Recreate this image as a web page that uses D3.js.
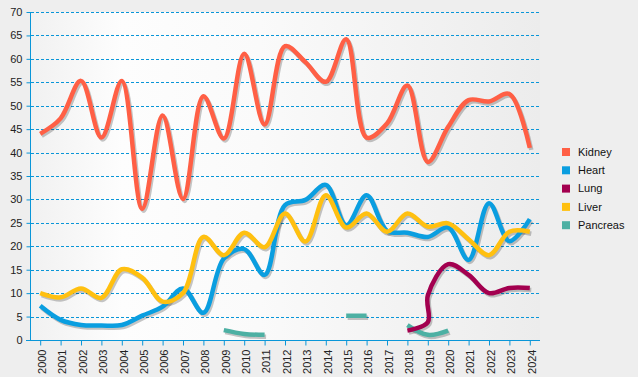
<!DOCTYPE html>
<html>
<head>
<meta charset="utf-8">
<script src="https://cdn.jsdelivr.net/npm/d3@7"></script>
<style>
  body { margin: 0; background: #eeeeee; }
  svg { display: block; font-family: 'Liberation Sans', Arial, sans-serif; }
</style>
</head>
<body>
<script>
// Values, one array per series

const years = ['2000', '2001', '2002', '2003', '2004', '2005', '2006', '2007', '2008', '2009',
  '2010', '2011', '2012', '2013', '2014', '2015', '2016', '2017', '2018', '2019',
  '2020', '2021', '2022', '2023', '2024']

const yTicks = [0, 5, 10, 15, 20, 25, 30, 35, 40, 45, 50, 55, 60, 65, 70]

const kidney = [44, 47.3, 55.3, 43.2, 55.3, 28, 47.9, 30.1, 52, 43, 61.1, 46, 62.7, 59.3, 55.1,
  64.2, 43.2, 46.2, 54.3, 38, 45.5, 51.2, 50.9, 52.5, 41]
const heart = [7.3, 4.3, 3.2, 3.1, 3.2, 5.2, 7.1, 11, 5.8, 17.4, 19.4, 13.9, 28.8, 29.9, 33.1,
  24.5, 30.9, 23.3, 22.9, 22, 24, 17.1, 29.2, 21.1, 25.8]
const liver = [10, 9.1, 11, 9, 15.1, 13.3, 8.2, 10, 22, 18.1, 22.9, 19.8, 27, 21, 30.9,
  24, 27, 23.1, 27, 24.2, 24.9, 21.5, 18.1, 23.1, 23.1]
const pancreas = [null, null, null, null, null, null, null, null, null, 2.1, 1.3, 1.1, null, null, null,
  5.2, 5.2, null, 3.2, 1.1, 2, null, null, null, null]

// the lung line jumps straight up at 2019, so it has two points there
const lungYears = ['2018', '2019', '2019', '2020', '2021', '2022', '2023', '2024']
const lungValues = [2, 3.8, 9.5, 16.2, 13.9, 10, 11.1, 11.1]

const seriesNames = ['Kidney', 'Heart', 'Lung', 'Liver', 'Pancreas']
const seriesColors = ['#ff5f45', '#0a9ee0', '#a3004f', '#ffc010', '#4db0a3']

class SplineChart {
  constructor (props) {
    this.width = 638
    this.height = 377
    this.plot = { left: 30, top: 12, right: 540, bottom: 340 }
    this.axisColor = '#0a96d8'
    this.el = 'body'
    Object.assign(this, props)
  }

  prepareScales () {
    this.x = d3.scalePoint().domain(years).range([this.plot.left, this.plot.right]).padding(0.5)
    this.y = d3.scaleLinear().domain([0, 70]).range([this.plot.bottom, this.plot.top])
    this.color = d3.scaleOrdinal().domain(seriesNames).range(seriesColors)
  }

  appendSvg () {
    this.svg = d3.select(this.el).append('svg')
      .attr('width', this.width)
      .attr('height', this.height)

    const grad = this.svg.append('defs').append('linearGradient')
      .attr('id', 'plotbg')
      .attr('x1', '0%').attr('x2', '100%').attr('y1', '0%').attr('y2', '0%')
    grad.append('stop').attr('offset', '0%').attr('stop-color', '#f1f1f1')
    grad.append('stop').attr('offset', '18%').attr('stop-color', '#fdfdfd')
    grad.append('stop').attr('offset', '45%').attr('stop-color', '#fafafa')
    grad.append('stop').attr('offset', '100%').attr('stop-color', '#ececec')

    this.svg.append('rect')
      .attr('x', this.plot.left)
      .attr('y', this.plot.top)
      .attr('width', this.plot.right - this.plot.left)
      .attr('height', this.plot.bottom - this.plot.top)
      .attr('fill', 'url(#plotbg)')
  }

  drawGrid () {
    this.svg.append('g')
      .selectAll('line')
      .data(yTicks.slice(1))
      .enter().append('line')
      .attr('x1', this.plot.left + 1)
      .attr('x2', this.plot.right)
      .attr('y1', (d) => Math.round(this.y(d)) + 0.5)
      .attr('y2', (d) => Math.round(this.y(d)) + 0.5)
      .attr('stroke', this.axisColor)
      .attr('stroke-dasharray', '3,2')
  }

  drawAxes () {
    const yAxis = d3.axisLeft(this.y).tickValues(yTicks).tickSize(4).tickPadding(4)
    const gy = this.svg.append('g')
      .attr('transform', `translate(${this.plot.left + 0.5}, 0)`)
      .call(yAxis)
    gy.select('.domain').attr('stroke', this.axisColor).attr('d', `M0,${this.plot.top}V${this.plot.bottom}`)
    gy.selectAll('.tick line').attr('stroke', this.axisColor)
    gy.selectAll('.tick text').attr('fill', '#222').style('font-size', '11px')
      .attr('font-family', null)

    const xAxis = d3.axisBottom(this.x).tickSize(5).tickSizeOuter(0)
    const gx = this.svg.append('g')
      .attr('transform', `translate(0, ${this.plot.bottom + 0.5})`)
      .call(xAxis)
    gx.select('.domain').attr('stroke', this.axisColor).attr('d', `M${this.plot.left - 4},0H${this.plot.right}`)
    gx.selectAll('.tick line').attr('stroke', this.axisColor)
    gx.selectAll('.tick text')
      .attr('fill', '#222')
      .attr('font-family', null)
      .style('font-size', '11px')
      .attr('text-anchor', 'end')
      .attr('transform', 'translate(1.5, 9) rotate(-90)')
      .attr('x', 0).attr('y', 0).attr('dy', '0.35em')
  }

  drawLines () {
    const line = d3.line()
      .defined((d) => d[1] !== null)
      .x((d) => this.x(d[0]))
      .y((d) => this.y(d[1]))
      .curve(d3.curveCatmullRom.alpha(0.5))

    const rows = {
      Kidney: years.map((yr, i) => [yr, kidney[i]]),
      Heart: years.map((yr, i) => [yr, heart[i]]),
      Lung: lungYears.map((yr, i) => [yr, lungValues[i]]),
      Liver: years.map((yr, i) => [yr, liver[i]]),
      Pancreas: years.map((yr, i) => [yr, pancreas[i]])
    }
    // drawing order: last drawn on top
    const order = ['Pancreas', 'Lung', 'Heart', 'Liver', 'Kidney']

    const shadows = this.svg.append('g').attr('transform', 'translate(1.5, 2)')
    shadows.selectAll('path')
      .data(order)
      .enter().append('path')
      .attr('d', (d) => line(rows[d]))
      .attr('fill', 'none')
      .attr('stroke', 'rgba(0,0,0,0.22)')
      .attr('stroke-width', 4.5)
      .attr('stroke-linejoin', 'round')

    this.svg.append('g')
      .selectAll('path')
      .data(order)
      .enter().append('path')
      .attr('d', (d) => line(rows[d]))
      .attr('fill', 'none')
      .attr('stroke', (d) => this.color(d))
      .attr('stroke-width', 4.5)
      .attr('stroke-linejoin', 'round')
  }

  drawLegend () {
    const legend = this.svg.selectAll('.legend')
      .data(seriesNames)
      .enter().append('g')
      .attr('class', 'legend')
      .attr('transform', (d, i) => `translate(562, ${152 + i * 18.3})`)

    legend.append('rect')
      .attr('x', 0)
      .attr('y', -4)
      .attr('width', 8)
      .attr('height', 8)
      .style('fill', this.color)

    legend.append('text')
      .attr('x', 16)
      .attr('y', 0)
      .attr('dy', '.35em')
      .style('font-size', '11px')
      .attr('fill', '#111')
      .text((d) => d)
  }

  draw () {
    this.prepareScales()
    this.appendSvg()
    this.drawGrid()
    this.drawAxes()
    this.drawLines()
    this.drawLegend()
  }
}

const c = new SplineChart()
c.draw()
</script>
</body>
</html>
